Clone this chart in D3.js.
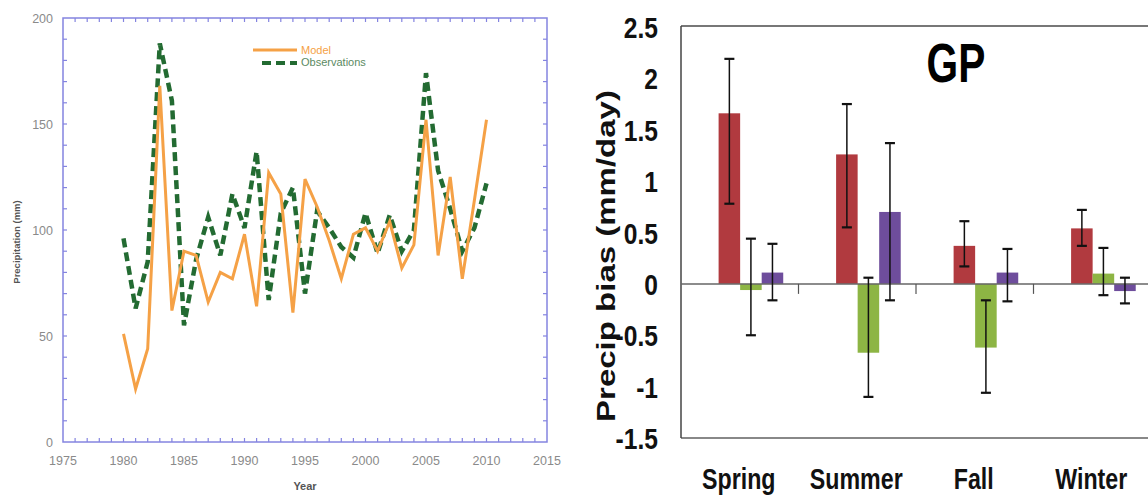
<!DOCTYPE html>
<html>
<head>
<meta charset="utf-8">
<script src="https://cdn.jsdelivr.net/npm/d3@7"></script>
<style>
  body { margin: 0; background: #fff; }
  svg { display: block; }
  text { font-family: "Liberation Sans", Arial, sans-serif; }
</style>
</head>
<body>
<div id="chart"></div>
<script>
// left panel: yearly precipitation
const years = d3.range(1980, 2011);
const modelVals = [51, 25, 44, 168, 62, 90, 88, 66, 80, 77, 98, 64, 127, 117, 61, 124,
                   111, 95, 77, 98, 101, 90, 104, 82, 93, 152, 88, 125, 77, 114, 152];
const obsVals = [96, 63, 85, 188, 161, 55, 86, 106, 88, 117, 101, 137, 67, 108, 120, 70,
                 109, 101, 92, 87, 108, 89, 107, 90, 100, 174, 128, 110, 90, 101, 122];
const xTickLabels = [1975, 1980, 1985, 1990, 1995, 2000, 2005, 2010, 2015];
const yTickLabels = [0, 50, 100, 150, 200];

// right panel: seasonal bias (three series per season)
const seasons = ["Spring", "Summer", "Fall", "Winter"];
const seriesNames = ["s1", "s2", "s3"];
const seriesColors = ["#b13a3f", "#8db544", "#6e4d9c"];
const biasVals = [
  [1.66, 1.26, 0.37, 0.54],
  [-0.06, -0.67, -0.62, 0.10],
  [0.11, 0.70, 0.11, -0.07]
];
const biasLo = [
  [0.78, 0.55, 0.17, 0.37],
  [-0.50, -1.10, -1.06, -0.11],
  [-0.16, -0.16, -0.17, -0.19]
];
const biasHi = [
  [2.19, 1.75, 0.61, 0.72],
  [0.44, 0.06, -0.16, 0.35],
  [0.39, 1.37, 0.34, 0.06]
];
const biasTicks = [2.5, 2, 1.5, 1, 0.5, 0, -0.5, -1, -1.5];

const W = 1148, H = 500;
const svg = d3.select("#chart").append("svg")
  .attr("width", W).attr("height", H);

// ---------- left chart ----------
const L = {left: 63, right: 547, top: 18, bottom: 442};
const xL = d3.scaleLinear().domain([1975, 2015]).range([L.left, L.right]);
const yL = d3.scaleLinear().domain([0, 200]).range([L.bottom, L.top]);
const frameCol = "#8484e0";
const gL = svg.append("g");

gL.append("rect")
  .attr("x", L.left).attr("y", L.top)
  .attr("width", L.right - L.left).attr("height", L.bottom - L.top)
  .attr("fill", "none").attr("stroke", frameCol).attr("stroke-width", 1.5);

// minor ticks, pointing inward
d3.range(1976, 2015).forEach(function (yr) {
  gL.append("line").attr("x1", xL(yr)).attr("x2", xL(yr))
    .attr("y1", L.bottom).attr("y2", L.bottom - 4)
    .attr("stroke", frameCol).attr("stroke-width", 1.2);
  gL.append("line").attr("x1", xL(yr)).attr("x2", xL(yr))
    .attr("y1", L.top).attr("y2", L.top + 4)
    .attr("stroke", frameCol).attr("stroke-width", 1.2);
});
d3.range(10, 200, 10).forEach(function (v) {
  gL.append("line").attr("x1", L.left).attr("x2", L.left + 4)
    .attr("y1", yL(v)).attr("y2", yL(v))
    .attr("stroke", frameCol).attr("stroke-width", 1.2);
  gL.append("line").attr("x1", L.right).attr("x2", L.right - 4)
    .attr("y1", yL(v)).attr("y2", yL(v))
    .attr("stroke", frameCol).attr("stroke-width", 1.2);
});

gL.selectAll("text.xt").data(xTickLabels).enter().append("text")
  .attr("x", d => xL(d)).attr("y", L.bottom + 23)
  .attr("text-anchor", "middle").attr("font-size", 12.5)
  .attr("fill", "#8a8a8a").text(d => d);
gL.selectAll("text.yt").data(yTickLabels).enter().append("text")
  .attr("x", L.left - 10).attr("y", d => yL(d) + 4.5)
  .attr("text-anchor", "end").attr("font-size", 12.5)
  .attr("fill", "#8a8a8a").text(d => d);

gL.append("text")
  .attr("transform", "translate(20," + ((L.top + L.bottom) / 2 + 12) + ") rotate(-90)")
  .attr("text-anchor", "middle").attr("font-size", 9.5).attr("font-weight", "bold")
  .attr("fill", "#555").text("Precipitation (mm)");
gL.append("text")
  .attr("x", (L.left + L.right) / 2).attr("y", 490)
  .attr("text-anchor", "middle").attr("font-size", 11).attr("font-weight", "bold")
  .attr("fill", "#555").text("Year");

const line = d3.line().x((d, i) => xL(years[i])).y(d => yL(d));
gL.append("path").datum(obsVals).attr("d", line)
  .attr("fill", "none").attr("stroke", "#236b32").attr("stroke-width", 4.5)
  .attr("stroke-dasharray", "9,5");
gL.append("path").datum(modelVals).attr("d", line)
  .attr("fill", "none").attr("stroke", "#f5a146").attr("stroke-width", 3)
  .attr("stroke-linejoin", "miter");

// legend
gL.append("line").attr("x1", 253).attr("x2", 297).attr("y1", 50).attr("y2", 50)
  .attr("stroke", "#f5a146").attr("stroke-width", 3);
gL.append("text").attr("x", 301).attr("y", 54).attr("font-size", 11)
  .attr("fill", "#f5a146").text("Model");
gL.append("line").attr("x1", 262).attr("x2", 297).attr("y1", 63).attr("y2", 63)
  .attr("stroke", "#236b32").attr("stroke-width", 4).attr("stroke-dasharray", "9,5");
gL.append("text").attr("x", 301).attr("y", 66).attr("font-size", 11)
  .attr("fill", "#5b8a62").text("Observations");

// ---------- right chart ----------
const R = {left: 681, right: 1151, top: 26, bottom: 438};
const yR = d3.scaleLinear().domain([-1.5, 2.5]).range([R.bottom, 27]);
const x0 = d3.scaleBand().domain(seasons).range([R.left, R.right]);
const bw = x0.bandwidth();
const x1 = d3.scaleBand().domain(seriesNames).range([bw * 0.32, bw * 0.87]);
const gR = svg.append("g");

// frame
gR.append("line").attr("x1", R.left).attr("x2", W).attr("y1", R.top).attr("y2", R.top)
  .attr("stroke", "#777").attr("stroke-width", 2);
gR.append("line").attr("x1", R.left).attr("x2", W).attr("y1", R.bottom).attr("y2", R.bottom)
  .attr("stroke", "#888").attr("stroke-width", 2);
gR.append("line").attr("x1", R.left).attr("x2", R.left).attr("y1", R.top).attr("y2", R.bottom)
  .attr("stroke", "#444").attr("stroke-width", 1.5);

// bars
seriesNames.forEach(function (s, si) {
  const g = gR.append("g");
  g.selectAll("rect").data(seasons).enter().append("rect")
    .attr("x", d => x0(d) + x1(s))
    .attr("width", x1.bandwidth())
    .attr("y", (d, i) => yR(Math.max(0, biasVals[si][i])))
    .attr("height", (d, i) => Math.abs(yR(biasVals[si][i]) - yR(0)))
    .attr("fill", seriesColors[si]);
});

// zero line with category ticks
gR.append("line").attr("x1", R.left).attr("x2", W).attr("y1", yR(0)).attr("y2", yR(0))
  .attr("stroke", "#666").attr("stroke-width", 1.5);
seasons.slice(1).forEach(function (s) {
  gR.append("line").attr("x1", x0(s)).attr("x2", x0(s))
    .attr("y1", yR(0)).attr("y2", yR(0) + 10)
    .attr("stroke", "#555").attr("stroke-width", 1.2);
});

// error bars
seriesNames.forEach(function (s, si) {
  seasons.forEach(function (d, i) {
    const cx = x0(d) + x1(s) + x1.bandwidth() / 2;
    const yl = yR(biasLo[si][i]), yh = yR(biasHi[si][i]);
    gR.append("line").attr("x1", cx).attr("x2", cx).attr("y1", yh).attr("y2", yl)
      .attr("stroke", "#111").attr("stroke-width", 1.5);
    [yl, yh].forEach(function (yy) {
      gR.append("line").attr("x1", cx - 5).attr("x2", cx + 5).attr("y1", yy).attr("y2", yy)
        .attr("stroke", "#111").attr("stroke-width", 2.2);
    });
  });
});

// y tick labels
gR.selectAll("text.yt").data(biasTicks).enter().append("text")
  .attr("transform", d => "translate(658," + (yR(d) + 11) + ") scale(0.82,1)")
  .attr("text-anchor", "end").attr("font-size", 30).attr("font-weight", "bold")
  .attr("fill", "#111").text(d => d);

// category labels
gR.selectAll("text.xt").data(seasons).enter().append("text")
  .attr("transform", d => "translate(" + (x0(d) + bw / 2 - 1) + ",489) scale(0.8,1)")
  .attr("text-anchor", "middle").attr("font-size", 29).attr("font-weight", "bold")
  .attr("fill", "#111").text(d => d);

// axis title
gR.append("text")
  .attr("transform", "translate(615,256) scale(0.8,1) rotate(-90)")
  .attr("text-anchor", "middle").attr("font-size", 33).attr("font-weight", "bold")
  .attr("fill", "#111").text("Precip bias (mm/day)");

// panel title
gR.append("text")
  .attr("transform", "translate(956,82) scale(0.74,1)")
  .attr("text-anchor", "middle").attr("font-size", 55).attr("font-weight", "bold")
  .attr("fill", "#000").text("GP");
</script>
</body>
</html>
